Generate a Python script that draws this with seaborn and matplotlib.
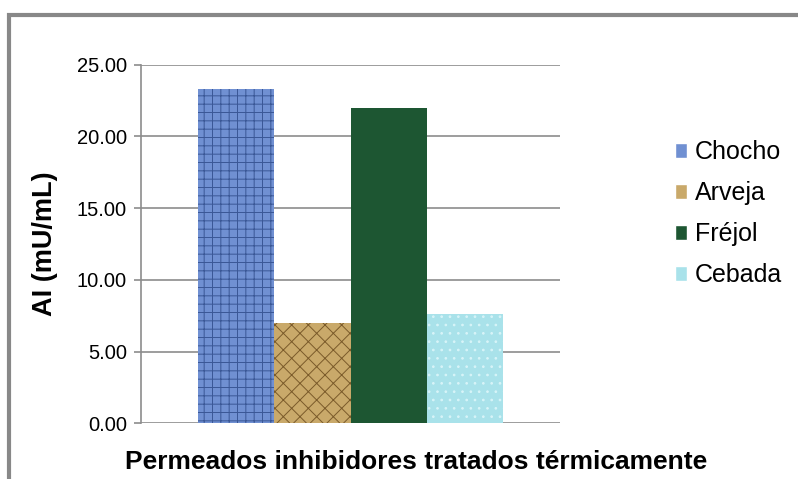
import matplotlib
matplotlib.use("Agg")
import matplotlib.pyplot as plt
import seaborn as sns
import pandas as pd
from matplotlib.patches import Rectangle

# Data
group = ["Permeados inhibidores tratados térmicamente"]
samples = ["Chocho", "Arveja", "Fréjol", "Cebada"]
values = [23.3, 7.0, 22.0, 7.6]
colors = ["#7090d2", "#c9a96a", "#1d5632", "#a9e2ea"]
hatch_colors = ["#3a5796", "#7a5a2a", "#2a6e43", "#d8f4f8"]
hatches = ["++", "xx", "", ".."]
yticks = [0, 5, 10, 15, 20, 25]

df = pd.DataFrame({"grupo": group * len(samples), "muestra": samples, "AI": values})

sns.set_theme(style="white")
plt.rcParams["font.family"] = ["Liberation Sans", "DejaVu Sans"]
plt.rcParams["hatch.linewidth"] = 0.7
plt.rcParams["text.color"] = "black"

fig = plt.figure(figsize=(7.98, 4.79), dpi=100)
ax = fig.add_axes([141 / 798, (479 - 423.3) / 479, (560 - 141) / 798, (423.3 - 64.7) / 479])

sns.barplot(data=df, x="grupo", y="AI", hue="muestra", palette=colors,
            width=0.726, saturation=1, ax=ax, legend=True)

for bar, hc, h in zip(ax.patches[:len(samples)], hatch_colors, hatches):
    bar.set_hatch(h)
    bar.set_edgecolor(hc)
    bar.set_linewidth(0)

ax.set_ylim(0, 25)
ax.set_xlim(-0.5, 0.5)
ax.set_yticks(yticks)
ax.set_yticklabels([f"{t:.2f}" for t in yticks], fontsize=14.5)
ax.set_xticks([])
ax.yaxis.grid(True, color="#8c8c8c", linewidth=1.2)
ax.set_axisbelow(True)
for s in ["top", "right", "bottom"]:
    ax.spines[s].set_visible(False)
ax.spines["left"].set_color("#8c8c8c")
ax.spines["left"].set_linewidth(1.2)
ax.tick_params(axis="y", which="major", length=5, color="#8c8c8c", width=1.2,
               left=True, pad=5, labelcolor="black")

ax.set_ylabel("AI (mU/mL)", fontsize=19.5, fontweight="bold", labelpad=14,
              color="black")
ax.set_xlabel("")
fig.text(416 / 798, 1 - 462 / 479, "Permeados inhibidores tratados térmicamente",
         fontsize=19, fontweight="bold", ha="center", va="center", color="black")

leg = ax.legend(loc="center left", bbox_to_anchor=(1.25, 0.584), frameon=False,
                fontsize=18, handlelength=0.5, handleheight=0.5,
                handletextpad=0.3, labelspacing=0.68, borderaxespad=0)
for t in leg.get_texts():
    t.set_color("black")

# chart frame (top and left visible)
fig.patches.append(Rectangle((9 / 798, -0.05), 1.2, (479 - 15) / 479 + 0.05,
                             transform=fig.transFigure, fill=False,
                             edgecolor="#888888", linewidth=3))

fig.savefig("out.png", dpi=100)
